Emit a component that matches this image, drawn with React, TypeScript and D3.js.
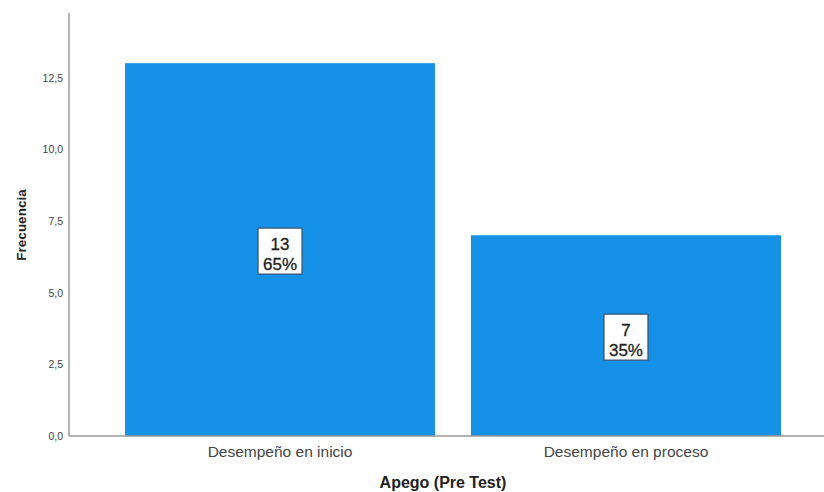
import React from "react";
import * as d3 from "d3";

const categories = ["Desempeño en inicio", "Desempeño en proceso"];
const counts = [13, 7];
const percents = ["65%", "35%"];
const yTicks = [0, 2.5, 5, 7.5, 10, 12.5];
const yTitle = "Frecuencia";
const xTitle = "Apego (Pre Test)";

const W = 824;
const H = 492;
const FONT = "'Liberation Sans', Arial, sans-serif";

export default function App() {
  const axisX = 69;
  const baseY = 436;
  const y = d3.scaleLinear().domain([0, 14.75]).range([baseY, 13]);
  const x = d3
    .scaleBand<string>()
    .domain(categories)
    .range([axisX, 837])
    .paddingInner(0.104)
    .paddingOuter(0.162);
  const fmt = (v: number) => d3.format(".1f")(v).replace(".", ",");

  return (
    <svg
      width={W}
      height={H}
      style={{ position: "absolute", left: 0, top: 0, background: "#fff" }}
      fontFamily={FONT}
    >
      <rect x={0} y={0} width={W} height={H} fill="#fff" />
      {categories.map((c, i) => {
        const bx = x(c)!;
        const bw = x.bandwidth();
        const top = y(counts[i]);
        const cx = bx + bw / 2;
        const cy = (top + baseY) / 2 + 1.5;
        return (
          <g key={c}>
            <rect x={bx} y={top} width={bw} height={baseY - top} fill="#1591e8" />
            <rect
              x={cx - 22}
              y={cy - 23}
              width={44}
              height={46}
              fill="#fff"
              stroke="#34506e"
              strokeWidth={1.2}
            />
            <text x={cx} y={cy - 1} textAnchor="middle" fontSize={17} fill="#222" stroke="#222" strokeWidth={0.3}>
              {counts[i]}
            </text>
            <text x={cx} y={cy + 18.5} textAnchor="middle" fontSize={17} fill="#222" stroke="#222" strokeWidth={0.3}>
              {percents[i]}
            </text>
            <text x={cx} y={457} textAnchor="middle" fontSize={15.5} fill="#444">
              {c}
            </text>
          </g>
        );
      })}
      <line x1={axisX} x2={W} y1={baseY} y2={baseY} stroke="#999" strokeWidth={1.5} />
      <line x1={axisX} x2={axisX} y1={y.range()[1]} y2={baseY} stroke="#999" strokeWidth={1.5} />
      {yTicks.map((t) => (
        <text key={t} x={63} y={y(t) + 4} textAnchor="end" fontSize={10.5} fill="#444">
          {fmt(t)}
        </text>
      ))}
      <text
        transform={`translate(26, 225) rotate(-90)`}
        textAnchor="middle"
        fontSize={13.5}
        fontWeight="bold"
        fill="#222"
      >
        {yTitle}
      </text>
      <text x={443} y={488} textAnchor="middle" fontSize={16} fontWeight="bold" fill="#222">
        {xTitle}
      </text>
    </svg>
  );
}
